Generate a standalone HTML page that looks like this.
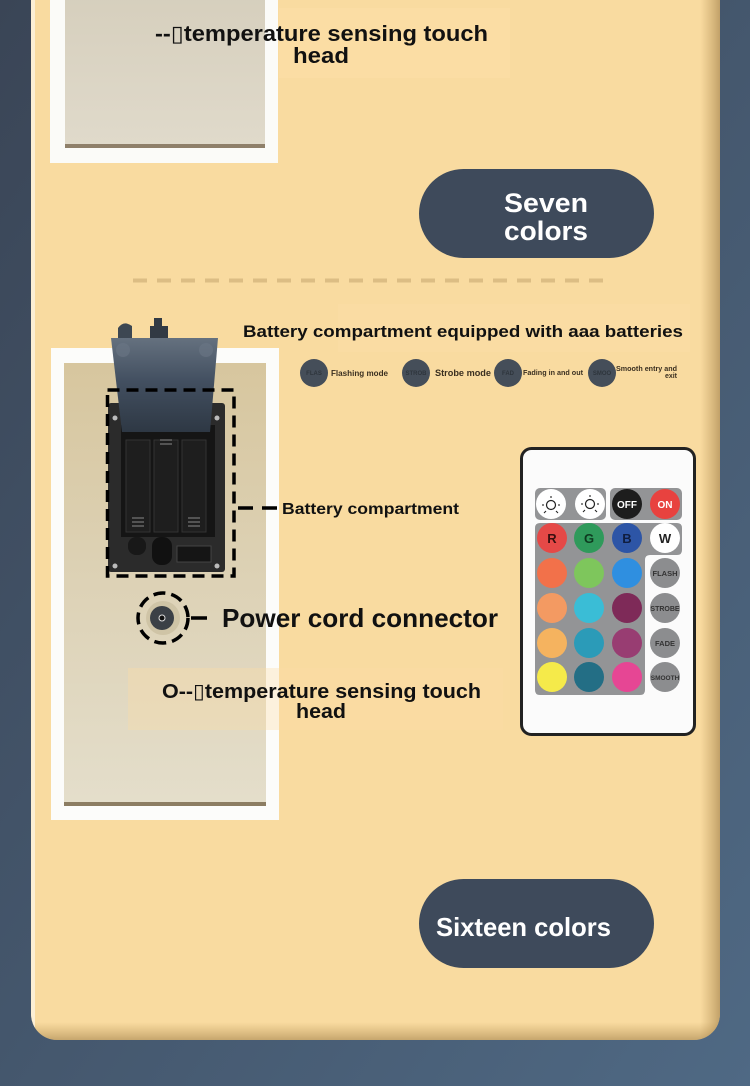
<!DOCTYPE html>
<html><head><meta charset="utf-8"><style>
html,body{margin:0;padding:0;background:#3f4b5d;}
svg{display:block;}
text{font-family:"Liberation Sans","DejaVu Sans",sans-serif;font-weight:bold;}
</style></head><body>
<svg width="750" height="1086" viewBox="0 0 750 1086" xmlns="http://www.w3.org/2000/svg">
<defs>
<linearGradient id="bg" x1="0" y1="0" x2="1" y2="1">
<stop offset="0" stop-color="#3a4556"/><stop offset="1" stop-color="#4f6984"/>
</linearGradient>
<clipPath id="pc"><rect x="31" y="-40" width="689" height="1080" rx="26"/></clipPath>
<linearGradient id="rsh" x1="0" y1="0" x2="1" y2="0">
<stop offset="0" stop-color="#b08a4a" stop-opacity="0"/><stop offset="1" stop-color="#9c7a44" stop-opacity="0.6"/>
</linearGradient>
<linearGradient id="bsh" x1="0" y1="0" x2="0" y2="1">
<stop offset="0" stop-color="#b08a4a" stop-opacity="0"/><stop offset="1" stop-color="#9c7a44" stop-opacity="0.55"/>
</linearGradient>
<linearGradient id="sand" x1="0" y1="0" x2="0" y2="1">
<stop offset="0" stop-color="#d7c69e"/><stop offset="0.5" stop-color="#ddd2b6"/><stop offset="1" stop-color="#e4decb"/>
</linearGradient>
<linearGradient id="sand1" x1="0" y1="0" x2="0" y2="1">
<stop offset="0" stop-color="#d6cfbd"/><stop offset="1" stop-color="#e0dacb"/>
</linearGradient>
<linearGradient id="lid" x1="0" y1="0" x2="0" y2="1">
<stop offset="0" stop-color="#65717f"/><stop offset="0.45" stop-color="#435061"/><stop offset="1" stop-color="#2e3844"/>
</linearGradient>
</defs>
<rect width="750" height="1086" fill="url(#bg)"/>
<!-- panel -->
<rect x="31" y="-40" width="689" height="1080" rx="26" fill="#f9dba0"/>
<g clip-path="url(#pc)">
<rect x="700" y="-40" width="20" height="1080" fill="url(#rsh)"/>
<rect x="31" y="1022" width="689" height="18" fill="url(#bsh)"/>
<rect x="31" y="-40" width="4" height="1080" fill="#fff" opacity="0.55"/>
</g>

<!-- top photo -->
<rect x="50" y="-5" width="228" height="168" fill="#fbfbf8"/>
<rect x="65" y="-5" width="200" height="152" fill="url(#sand1)"/>
<rect x="65" y="144" width="200" height="4" fill="#8f806a"/>
<rect x="279" y="8" width="231" height="70" fill="#fbdea6" opacity="0.6"/>
<text x="321.5" y="41" font-size="22" text-anchor="middle" textLength="333" lengthAdjust="spacingAndGlyphs" fill="#111">--▯temperature sensing touch</text>
<text x="321" y="63" font-size="22" text-anchor="middle" textLength="56" lengthAdjust="spacingAndGlyphs" fill="#111">head</text>

<!-- seven colors -->
<rect x="419" y="169" width="235" height="89" rx="44.5" fill="#3e4a5b"/>
<text x="504" y="212" font-size="27" textLength="84" lengthAdjust="spacingAndGlyphs" fill="#fff">Seven</text>
<text x="504" y="240" font-size="27" textLength="84" lengthAdjust="spacingAndGlyphs" fill="#fff">colors</text>

<line x1="133" y1="280.5" x2="605" y2="280.5" stroke="#dcbd84" stroke-width="4" stroke-dasharray="14 10"/>

<!-- battery header -->
<rect x="338" y="304" width="352" height="48" fill="#fbdea6" opacity="0.5"/>
<text x="243" y="337" font-size="17" textLength="440" lengthAdjust="spacingAndGlyphs" fill="#111">Battery compartment equipped with aaa batteries</text>
<g font-size="6" fill="#6a7078">
<circle cx="314" cy="373" r="14" fill="#454e59"/><text x="314" y="375" text-anchor="middle" fill="#2e353c">FLAS</text>
<circle cx="416" cy="373" r="14" fill="#454e59"/><text x="416" y="375" text-anchor="middle" fill="#2e353c">STROB</text>
<circle cx="508" cy="373" r="14" fill="#454e59"/><text x="508" y="375" text-anchor="middle" fill="#2e353c">FAD</text>
<circle cx="602" cy="373" r="14" fill="#454e59"/><text x="602" y="375" text-anchor="middle" fill="#2e353c">SMOO</text>
</g>
<g fill="#3a2f20">
<text x="331" y="376" font-size="8" textLength="57" lengthAdjust="spacingAndGlyphs">Flashing mode</text>
<text x="435" y="376" font-size="9.5" textLength="56" lengthAdjust="spacingAndGlyphs" font-weight="normal">Strobe mode</text>
<text x="523" y="375" font-size="7" textLength="60" lengthAdjust="spacingAndGlyphs">Fading in and out</text>
<text x="677" y="371" font-size="7" text-anchor="end" textLength="61" lengthAdjust="spacingAndGlyphs">Smooth entry and</text>
<text x="677" y="378" font-size="7" text-anchor="end">exit</text>
</g>

<!-- second photo -->
<rect x="51" y="348" width="228" height="472" fill="#fcfcfa"/>
<rect x="64" y="363" width="202" height="443" fill="url(#sand)"/>
<rect x="64" y="802" width="202" height="4" fill="#8c7d62"/>
<!-- holder plate -->
<rect x="108" y="403" width="117" height="169" rx="3" fill="#2b2b2b"/>
<rect x="121" y="425" width="94" height="112" fill="#151515"/>
<rect x="126" y="440" width="24" height="92" fill="#1e1e1e" stroke="#333" stroke-width="1"/>
<rect x="154" y="440" width="24" height="92" fill="#1e1e1e" stroke="#333" stroke-width="1"/>
<rect x="182" y="440" width="24" height="92" fill="#1e1e1e" stroke="#333" stroke-width="1"/>
<g stroke="#777" stroke-width="1.2">
<line x1="132" y1="518" x2="144" y2="518"/><line x1="132" y1="522" x2="144" y2="522"/><line x1="132" y1="526" x2="144" y2="526"/>
<line x1="188" y1="518" x2="200" y2="518"/><line x1="188" y1="522" x2="200" y2="522"/><line x1="188" y1="526" x2="200" y2="526"/>
<line x1="160" y1="440" x2="172" y2="440"/><line x1="160" y1="444" x2="172" y2="444"/>
</g>
<rect x="128" y="537" width="18" height="18" rx="8" fill="#181818"/>
<rect x="152" y="537" width="20" height="28" rx="9" fill="#111"/>
<rect x="177" y="546" width="34" height="16" fill="#151515" stroke="#444" stroke-width="1"/>
<circle cx="115" cy="566" r="2.5" fill="#bbb"/><circle cx="217" cy="566" r="2.5" fill="#bbb"/>
<circle cx="115" cy="418" r="2.5" fill="#bbb"/><circle cx="217" cy="418" r="2.5" fill="#bbb"/>
<!-- lid -->
<path d="M118 340 L118 328 Q124 320 132 326 L132 338 Z" fill="#3d4752"/>
<path d="M150 340 L150 326 L154 326 L154 318 L162 318 L162 326 L168 326 L168 340 Z" fill="#323a44"/>
<path d="M111 338 L218 338 L210 432 L122 432 Z" fill="url(#lid)"/>
<circle cx="123" cy="350" r="7" fill="#6b7785" opacity="0.6"/><circle cx="206" cy="350" r="7" fill="#6b7785" opacity="0.6"/>
<!-- dashed box -->
<rect x="107.5" y="390" width="126.5" height="186" fill="none" stroke="#000" stroke-width="3.5" stroke-dasharray="12 7"/>
<line x1="238" y1="508" x2="278" y2="508" stroke="#000" stroke-width="3.5" stroke-dasharray="15 9"/>
<text x="282" y="514" font-size="16" textLength="177" lengthAdjust="spacingAndGlyphs" fill="#111">Battery compartment</text>
<!-- power connector -->
<circle cx="163" cy="618" r="17" fill="#cfc4a6"/>
<circle cx="162" cy="618" r="12" fill="#3b4046"/>
<circle cx="162" cy="618" r="3" fill="#111" stroke="#ddd" stroke-width="1"/>
<circle cx="163" cy="618" r="25" fill="none" stroke="#000" stroke-width="3.5" stroke-dasharray="12 6"/>
<path d="M191 618 L207 618" fill="none" stroke="#000" stroke-width="3.5"/>
<text x="222" y="627" font-size="26" textLength="276" lengthAdjust="spacingAndGlyphs" fill="#111">Power cord connector</text>
<!-- bottom label -->
<rect x="128" y="668" width="375" height="62" fill="#fbdea6" opacity="0.35"/>
<text x="321.5" y="698" font-size="20" text-anchor="middle" textLength="319" lengthAdjust="spacingAndGlyphs" fill="#111">O--▯temperature sensing touch</text>
<text x="321" y="718" font-size="20" text-anchor="middle" textLength="50" lengthAdjust="spacingAndGlyphs" fill="#111">head</text>

<!-- remote -->
<rect x="521.5" y="448.5" width="173" height="286" rx="10" fill="#fbfbfb" stroke="#222" stroke-width="3"/>
<rect x="535" y="488" width="71" height="32" rx="5" fill="#939496"/>
<rect x="610" y="488" width="72" height="32" rx="5" fill="#939496"/>
<path d="M540 523 L677 523 Q682 523 682 528 L682 550 Q682 555 677 555 L650 555 Q645 555 645 560 L645 690 Q645 695 640 695 L540 695 Q535 695 535 690 L535 528 Q535 523 540 523 Z" fill="#939496"/>
<g>
<circle cx="551" cy="504" r="15" fill="#fff"/><circle cx="590" cy="504" r="15" fill="#fff"/>
<circle cx="551" cy="505" r="4.5" fill="none" stroke="#222" stroke-width="1.2"/>
<circle cx="590" cy="504" r="4.5" fill="none" stroke="#222" stroke-width="1.2"/>
<g stroke="#222" stroke-width="1.1">
<line x1="551" y1="496" x2="551" y2="498"/><line x1="544" y1="505" x2="542" y2="505"/><line x1="558" y1="505" x2="560" y2="505"/><line x1="546" y1="511" x2="544" y2="513"/><line x1="556" y1="511" x2="558" y2="513"/>
<line x1="590" y1="495" x2="590" y2="497"/><line x1="583" y1="504" x2="581" y2="504"/><line x1="597" y1="504" x2="599" y2="504"/><line x1="585" y1="510" x2="583" y2="512"/><line x1="595" y1="510" x2="597" y2="512"/>
</g>
<circle cx="627" cy="504" r="15" fill="#1d1d1d"/><text x="627" y="508" font-size="10" text-anchor="middle" fill="#fff">OFF</text>
<circle cx="665" cy="504" r="15" fill="#e8423f"/><text x="665" y="508" font-size="10" text-anchor="middle" fill="#fff">ON</text>

<circle cx="552" cy="538" r="15" fill="#e54947"/><text x="552" y="543" font-size="13" text-anchor="middle" fill="#3a1010" font-weight="normal">R</text>
<circle cx="589" cy="538" r="15" fill="#2f9a5b"/><text x="589" y="543" font-size="13" text-anchor="middle" fill="#0e3a20" font-weight="normal">G</text>
<circle cx="627" cy="538" r="15" fill="#2d55a6"/><text x="627" y="543" font-size="13" text-anchor="middle" fill="#101e40" font-weight="normal">B</text>
<circle cx="665" cy="538" r="15" fill="#fff"/><text x="665" y="543" font-size="13" text-anchor="middle" fill="#222" font-weight="normal">W</text>

<circle cx="552" cy="573" r="15" fill="#f2714a"/><circle cx="589" cy="573" r="15" fill="#7ec65c"/><circle cx="627" cy="573" r="15" fill="#2f8fe0"/>
<circle cx="552" cy="608" r="15" fill="#f39a62"/><circle cx="589" cy="608" r="15" fill="#3abdd6"/><circle cx="627" cy="608" r="15" fill="#7e2a58"/>
<circle cx="552" cy="643" r="15" fill="#f5b35f"/><circle cx="589" cy="643" r="15" fill="#2b9bb8"/><circle cx="627" cy="643" r="15" fill="#983d72"/>
<circle cx="552" cy="677" r="15" fill="#f5ea4a"/><circle cx="589" cy="677" r="15" fill="#236e85"/><circle cx="627" cy="677" r="15" fill="#e64694"/>

<circle cx="665" cy="573" r="15" fill="#8c8d8f"/><text x="665" y="576" font-size="7.5" text-anchor="middle" fill="#333" font-weight="normal">FLASH</text>
<circle cx="665" cy="608" r="15" fill="#8c8d8f"/><text x="665" y="611" font-size="7" text-anchor="middle" fill="#333" font-weight="normal">STROBE</text>
<circle cx="665" cy="643" r="15" fill="#8c8d8f"/><text x="665" y="646" font-size="7.5" text-anchor="middle" fill="#333" font-weight="normal">FADE</text>
<circle cx="665" cy="677" r="15" fill="#8c8d8f"/><text x="665" y="680" font-size="6.5" text-anchor="middle" fill="#333" font-weight="normal">SMOOTH</text>
</g>

<!-- sixteen colors -->
<rect x="419" y="879" width="235" height="89" rx="44.5" fill="#3e4a5b"/>
<text x="436" y="936" font-size="26" textLength="175" lengthAdjust="spacingAndGlyphs" fill="#fff">Sixteen colors</text>
</svg>
</body></html>
